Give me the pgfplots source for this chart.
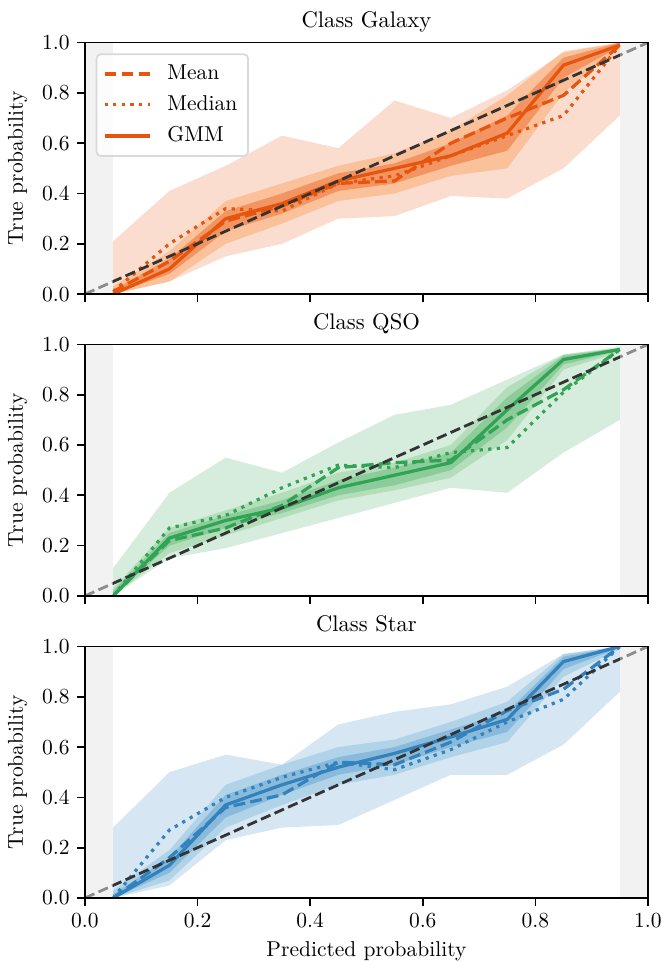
\documentclass[border=0pt]{standalone}
\usepackage{pgfplots}
\usepackage{pgfplotstable}
\pgfplotsset{compat=1.18}
\usepgfplotslibrary{fillbetween}

\definecolor{galaxy}{HTML}{E6550D}
\definecolor{galaxymid}{HTML}{FD8D3C}
\definecolor{qso}{HTML}{31A354}
\definecolor{qsomid}{HTML}{74C476}
\definecolor{star}{HTML}{3182BD}
\definecolor{starmid}{HTML}{6BAED6}

% Calibration curves per class: x = bin centre,
% mean / median / gmm = estimators, lo/hi = full spread,
% mlo/mhi and ilo/ihi = denser inner spreads
\pgfplotstableread{
x     mean   median gmm   lo    hi    mlo   mhi   ilo   ihi
0.05  0.01   0.01   0.00  0.00  0.21  0.00  0.03  0.00  0.015
0.15  0.13   0.20   0.10  0.05  0.41  0.05  0.17  0.08  0.14
0.25  0.29   0.34   0.30  0.15  0.51  0.20  0.37  0.25  0.33
0.35  0.35   0.33   0.36  0.20  0.63  0.28  0.44  0.32  0.40
0.45  0.44   0.44   0.45  0.30  0.58  0.37  0.51  0.41  0.48
0.55  0.45   0.47   0.50  0.31  0.77  0.40  0.56  0.44  0.52
0.65  0.60   0.55   0.55  0.39  0.70  0.47  0.65  0.51  0.60
0.75  0.70   0.63   0.64  0.38  0.81  0.50  0.79  0.57  0.71
0.85  0.79   0.71   0.91  0.50  0.96  0.80  0.965 0.86  0.94
0.95  0.99   0.99   0.99  0.71  1.00  0.98  1.00  0.985 1.00
}\galaxytab

\pgfplotstableread{
x     mean   median gmm   lo    hi    mlo   mhi   ilo   ihi
0.05  0.00   0.00   0.00  0.00  0.11  0.00  0.03  0.00  0.02
0.15  0.22   0.27   0.23  0.15  0.41  0.17  0.27  0.20  0.25
0.25  0.27   0.32   0.30  0.19  0.55  0.24  0.34  0.27  0.32
0.35  0.36   0.43   0.35  0.25  0.49  0.31  0.41  0.33  0.38
0.45  0.51   0.52   0.43  0.31  0.61  0.38  0.49  0.40  0.46
0.55  0.53   0.51   0.48  0.37  0.72  0.42  0.53  0.44  0.51
0.65  0.54   0.57   0.53  0.43  0.76  0.47  0.60  0.50  0.57
0.75  0.70   0.59   0.74  0.41  0.86  0.62  0.83  0.67  0.79
0.85  0.82   0.81   0.94  0.57  0.96  0.90  0.96  0.92  0.955
0.95  0.98   0.98   0.98  0.70  0.985 0.97  0.99  0.975 0.985
}\qsotab

\pgfplotstableread{
x     mean   median gmm   lo    hi    mlo   mhi   ilo   ihi
0.05  0.00   0.00   0.00  0.00  0.28  0.00  0.03  0.00  0.015
0.15  0.16   0.27   0.13  0.05  0.50  0.07  0.19  0.10  0.16
0.25  0.36   0.40   0.37  0.23  0.57  0.28  0.45  0.32  0.41
0.35  0.41   0.48   0.45  0.28  0.53  0.37  0.53  0.41  0.49
0.45  0.54   0.54   0.52  0.29  0.69  0.45  0.60  0.49  0.56
0.55  0.53   0.51   0.575 0.39  0.74  0.49  0.63  0.53  0.60
0.65  0.62   0.59   0.64  0.49  0.77  0.56  0.70  0.60  0.67
0.75  0.745  0.70   0.71  0.49  0.84  0.62  0.78  0.66  0.74
0.85  0.83   0.79   0.94  0.61  0.97  0.88  0.97  0.91  0.96
0.95  1.00   1.00   1.00  0.82  1.00  0.99  1.00  0.995 1.00
}\startab

% spread bands: outer light band, then two denser layers
\newcommand\spread[4]{%
  \addplot[draw=none, name path=lo, forget plot] table[x=x,y=lo]{#1};
  \addplot[draw=none, name path=hi, forget plot] table[x=x,y=hi]{#1};
  \addplot[fill=#2, fill opacity=0.2, draw=none, forget plot] fill between[of=lo and hi];
  \addplot[draw=none, name path=mlo, forget plot] table[x=x,y=mlo]{#1};
  \addplot[draw=none, name path=mhi, forget plot] table[x=x,y=mhi]{#1};
  \addplot[fill=#3, fill opacity=0.35, draw=none, forget plot] fill between[of=mlo and mhi];
  \addplot[draw=none, name path=ilo, forget plot] table[x=x,y=ilo]{#1};
  \addplot[draw=none, name path=ihi, forget plot] table[x=x,y=ihi]{#1};
  \addplot[fill=#2, fill opacity=#4, draw=none, forget plot] fill between[of=ilo and ihi];
}

% estimator curves, diagonal, and the excluded edge bins
\newcommand\curves[2]{%
  \addplot[#2, line width=1.5pt, dash pattern=on 5.5pt off 2.4pt] table[x=x,y=mean]{#1};
  \addplot[#2, line width=1.5pt, dash pattern=on 1.5pt off 2.5pt] table[x=x,y=median]{#1};
  \addplot[#2, line width=1.5pt] table[x=x,y=gmm]{#1};
  \addplot[black!80, line width=1.3pt, dash pattern=on 4.8pt off 2.1pt, forget plot] coordinates {(0,0) (1,1)};
  \addplot[fill=black!10, fill opacity=0.5, draw=none, forget plot] coordinates {(0,0) (0.05,0) (0.05,1) (0,1)};
  \addplot[fill=black!10, fill opacity=0.5, draw=none, forget plot] coordinates {(0.95,0) (1,0) (1,1) (0.95,1)};
}

\pgfplotsset{
  calib/.style={
    scale only axis,
    width=261.9pt, height=117pt,
    anchor=south west,
    xmin=0, xmax=1, ymin=0, ymax=1,
    xtick={0,0.2,0.4,0.6,0.8,1.0},
    ytick={0,0.2,0.4,0.6,0.8,1.0},
    tick align=outside, tick pos=left,
    major tick length=3.6pt,
    every tick/.style={black, line width=0.8pt},
    axis line style={line width=0.8pt},
    axis on top,
    xticklabel style={/pgf/number format/.cd, fixed, fixed zerofill, precision=1},
    yticklabel style={/pgf/number format/.cd, fixed, fixed zerofill, precision=1},
    ylabel={True probability},
    every axis title/.style={at={(0.5,1)}, anchor=base, yshift=7pt,
      font=\fontsize{10.5}{12}\selectfont},
  },
}

\begin{document}
\begin{tikzpicture}

\begin{axis}[calib, at={(0pt,280.9pt)}, title={Class Galaxy}, xticklabels={},
  legend style={at={(0.019,0.957)}, anchor=north west, draw=black!15,
    fill=white, fill opacity=0.8, text opacity=1, rounded corners=2pt,
    line width=0.8pt, inner xsep=3pt, inner ysep=3pt, row sep=2pt,
    cells={anchor=west}},
  legend image code/.code={\draw[#1] (0pt,0pt) -- (21pt,0pt); \path (26.5pt,0pt);}]
  \spread{\galaxytab}{galaxy}{galaxymid}{0.4}
  \curves{\galaxytab}{galaxy}
  \legend{Mean, Median, GMM}
\end{axis}

\begin{axis}[calib, at={(0pt,140.5pt)}, title={Class QSO}, xticklabels={}]
  \spread{\qsotab}{qso}{qsomid}{0.3}
  \curves{\qsotab}{qso}
\end{axis}

\begin{axis}[calib, at={(0pt,0pt)}, title={Class Star}, xlabel={Predicted probability}]
  \spread{\startab}{star}{starmid}{0.3}
  \curves{\startab}{star}
\end{axis}

\pgfresetboundingbox
\path[use as bounding box] (-39.5pt,-29.3pt) rectangle (268.4pt,417.7pt);
\end{tikzpicture}
\end{document}
